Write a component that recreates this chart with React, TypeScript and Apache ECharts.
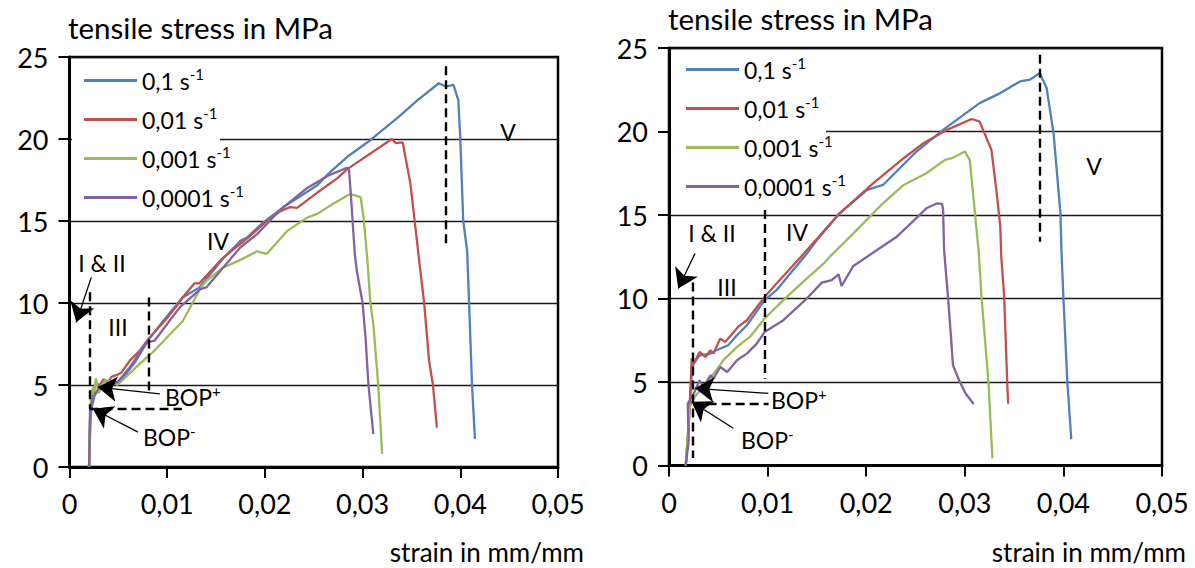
import React, { useEffect, useRef } from "react";
import * as echarts from "echarts";

const FONT = 'Lato, "Open Sans", sans-serif';

const rateNames = ["0,1 s-1", "0,01 s-1", "0,001 s-1", "0,0001 s-1"];
const rateColors = ["#4F81BD", "#C0504D", "#9BBB59", "#8064A2"];
const xTickLabels = ["0", "0,01", "0,02", "0,03", "0,04", "0,05"];
const yTickLabels = ["0", "5", "10", "15", "20", "25"];

// ---- left chart: strain (mm/mm), stress (MPa)
const leftRate1 = [
  [0.002, 0], [0.0021, 2.8], [0.0023, 3.7], [0.0026, 4.4], [0.0031, 4.8], [0.0037, 5.0], [0.0043, 5.15],
  [0.0049, 5.1], [0.0057, 5.6], [0.0067, 6.4], [0.0082, 7.85], [0.0098, 9.05], [0.0116, 10.35], [0.0133, 10.95],
  [0.0157, 12.7], [0.0175, 13.8], [0.0182, 14.0], [0.0198, 14.9], [0.0219, 15.85], [0.0254, 17.2], [0.0267, 18.0],
  [0.0284, 18.9], [0.0305, 19.8], [0.0336, 21.3], [0.0356, 22.35], [0.0378, 23.4], [0.0385, 23.2], [0.0393, 23.3],
  [0.0398, 22.35], [0.04, 20.0], [0.0403, 15.0], [0.0407, 13.2], [0.0409, 10.0], [0.0412, 5.0], [0.0415, 1.7],
];
const leftRate2 = [
  [0.002, 0], [0.0022, 3.75], [0.0024, 4.55], [0.0027, 5.1], [0.0031, 5.0], [0.0035, 5.35], [0.0039, 5.15],
  [0.0043, 5.5], [0.0048, 5.6], [0.0053, 5.75], [0.0062, 6.5], [0.0072, 7.1], [0.0082, 7.9], [0.0098, 8.95],
  [0.011, 9.85], [0.0116, 10.35], [0.0128, 11.2], [0.0133, 11.2], [0.0157, 12.75], [0.0185, 14.1], [0.0202, 15.0],
  [0.0216, 15.6], [0.0226, 15.85], [0.0233, 15.8], [0.0254, 16.75], [0.0274, 17.6], [0.0284, 18.15], [0.033, 20.0],
  [0.0334, 19.75], [0.0341, 19.8], [0.0349, 17.25], [0.0358, 12.55], [0.0363, 10.0], [0.0368, 6.5], [0.0372, 5.0],
  [0.0376, 2.4],
];
const leftRate3 = [
  [0.002, 0], [0.0021, 2.85], [0.0022, 4.35], [0.0024, 4.85], [0.0025, 4.25], [0.0027, 5.4], [0.003, 4.5],
  [0.0033, 5.0], [0.0037, 5.3], [0.0043, 5.2], [0.0049, 5.0], [0.0057, 5.45], [0.0072, 6.3], [0.0087, 7.1],
  [0.0116, 8.9], [0.0134, 10.9], [0.014, 11.35], [0.0157, 12.15], [0.0174, 12.6], [0.0192, 13.15], [0.0202, 13.0],
  [0.0223, 14.4], [0.0243, 15.2], [0.0254, 15.45], [0.027, 16.05], [0.0287, 16.65], [0.0298, 16.45], [0.0301, 15.2],
  [0.0305, 12.55], [0.0308, 10.0], [0.0311, 8.7], [0.0316, 5.0], [0.032, 0.8],
];
const leftRate4 = [
  [0.002, 0], [0.0021, 3.45], [0.0024, 4.25], [0.0031, 4.9], [0.0043, 4.95], [0.0051, 5.3], [0.0062, 6.1],
  [0.0079, 7.6], [0.0087, 7.7], [0.0113, 9.75], [0.0134, 10.85], [0.014, 10.95], [0.0175, 13.4], [0.0192, 14.2],
  [0.0216, 15.7], [0.0243, 17.0], [0.0264, 17.75], [0.0284, 18.25], [0.0286, 18.2], [0.0288, 16.6], [0.0292, 13.0],
  [0.0294, 12.0], [0.03, 10.0], [0.0303, 7.9], [0.0306, 5.0], [0.0311, 2.0],
];

// ---- right chart
const rightRate1 = [
  [0.0017, 0], [0.0021, 3.5], [0.0023, 5.5], [0.0025, 6.1], [0.0031, 6.6], [0.0042, 6.7], [0.0048, 6.9],
  [0.006, 7.2], [0.0069, 7.8], [0.0079, 8.4], [0.0097, 9.9], [0.0109, 10.5], [0.0123, 11.5], [0.014, 12.7],
  [0.015, 13.5], [0.0173, 15.1], [0.0201, 16.5], [0.0217, 16.8], [0.0251, 18.8], [0.0278, 20.1], [0.0315, 21.7],
  [0.0336, 22.3], [0.0356, 23.0], [0.0366, 23.1], [0.0376, 23.5], [0.0383, 22.6], [0.039, 19.9], [0.0397, 15.1],
  [0.0398, 12.9], [0.04, 10.05], [0.0404, 5.0], [0.0408, 1.57],
];
const rightRate2 = [
  [0.0017, 0], [0.002, 2.3], [0.0022, 4.9], [0.0023, 6.4], [0.0025, 6.1], [0.0031, 6.8], [0.0037, 6.5],
  [0.0042, 6.9], [0.0045, 6.7], [0.0052, 7.6], [0.0057, 7.4], [0.007, 8.3], [0.0079, 8.7], [0.0097, 10.1],
  [0.0123, 11.8], [0.014, 12.9], [0.0173, 15.1], [0.0207, 16.9], [0.0238, 18.4], [0.0258, 19.3], [0.0282, 20.1],
  [0.0307, 20.75], [0.0315, 20.6], [0.0327, 18.9], [0.0332, 16.5], [0.0336, 14.3], [0.0337, 12.5], [0.034, 10.05],
  [0.0343, 5.0], [0.0344, 3.7],
];
const rightRate3 = [
  [0.0017, 0], [0.002, 2.7], [0.0021, 3.5], [0.0026, 4.1], [0.0037, 4.9], [0.0048, 5.7], [0.0055, 6.3],
  [0.0069, 7.1], [0.0082, 7.7], [0.0097, 8.8], [0.0116, 9.9], [0.0136, 11.0], [0.0157, 12.1], [0.0163, 12.5],
  [0.0187, 13.9], [0.0217, 15.7], [0.0238, 16.8], [0.0261, 17.5], [0.028, 18.3], [0.0287, 18.4], [0.03, 18.8],
  [0.0305, 18.3], [0.0309, 15.9], [0.0314, 12.9], [0.0317, 10.05], [0.0324, 5.0], [0.0328, 0.43],
];
const rightRate4 = [
  [0.0017, 0], [0.002, 1.5], [0.0019, 3.7], [0.0025, 4.3], [0.0031, 5.1], [0.0035, 4.7], [0.0042, 5.4],
  [0.0045, 5.2], [0.0052, 5.9], [0.0059, 5.6], [0.0069, 6.3], [0.0079, 6.7], [0.0089, 7.3], [0.0097, 8.0],
  [0.0116, 8.7], [0.0138, 9.9], [0.0155, 10.95], [0.0165, 11.1], [0.0172, 11.45], [0.0175, 10.75], [0.0187, 11.95],
  [0.0211, 12.9], [0.0231, 13.7], [0.0248, 14.65], [0.0261, 15.4], [0.0272, 15.7], [0.0277, 15.66], [0.0278, 15.3],
  [0.0279, 12.9], [0.0283, 10.05], [0.0286, 7.7], [0.0288, 6.0], [0.0295, 5.0], [0.0301, 4.3], [0.0309, 3.68],
];

const leftCurves = [leftRate1, leftRate2, leftRate3, leftRate4];
const rightCurves = [rightRate1, rightRate2, rightRate3, rightRate4];

// annotation segments [x1, y1, x2, y2] in data units
const leftDashed = [
  [0.00205, 10.65, 0.00205, 3.55],
  [0.00205, 3.55, 0.0115, 3.55],
  [0.0081, 10.34, 0.0081, 4.46],
  [0.0385, 24.43, 0.0385, 13.6],
];
const leftArrows = [
  [0.00223, 11.56, 0.00069, 8.82],
  [0.00924, 4.46, 0.0029, 4.87],
  [0.00701, 2.13, 0.00239, 3.55],
];
const rightDashed = [
  [0.0024, 10.96, 0.0024, 0.45],
  [0.0025, 3.72, 0.0101, 3.72],
  [0.0097, 15.3, 0.0097, 5.2],
  [0.0376, 24.6, 0.0376, 13.4],
];
const rightArrows = [
  [0.00264, 12.7, 0.00094, 10.6],
  [0.01007, 4.32, 0.00264, 4.62],
  [0.00652, 2.23, 0.0023, 3.82],
];

const supRich = (size: number, sup: number, raise: number) => ({
  a: { fontSize: size, fontFamily: FONT, color: "#000" },
  s: { fontSize: sup, fontFamily: FONT, color: "#000", padding: [0, 0, raise, 0] },
});

export default function App() {
  const ref = useRef<HTMLDivElement>(null);
  useEffect(() => {
    if (!ref.current) return;
    const chart = echarts.init(ref.current, undefined, { renderer: "svg" });

    const grids = [
      { left: 69.5, top: 57, width: 488.5, height: 410 },
      { left: 669, top: 48, width: 493, height: 417.5 },
    ];

    const xAxes = grids.map((_, gi) => ({
      type: "value",
      gridIndex: gi,
      min: 0,
      max: 0.05,
      interval: 0.01,
      axisLine: { show: true, onZero: false, lineStyle: { color: "#000", width: 3 } },
      axisTick: { show: true, inside: false, length: 11, lineStyle: { color: "#000", width: 2 } },
      axisLabel: {
        fontSize: 27,
        fontFamily: FONT,
        color: "#000",
        margin: 23,
        formatter: (v: number) => xTickLabels[Math.round(v / 0.01)] ?? "",
      },
      splitLine: { show: false },
    }));
    const yAxes = grids.map((_, gi) => ({
      type: "value",
      gridIndex: gi,
      min: 0,
      max: 25,
      interval: 5,
      axisLine: { show: true, onZero: false, lineStyle: { color: "#000", width: 3 } },
      axisTick: { show: true, inside: false, length: 11, lineStyle: { color: "#000", width: 2 } },
      axisLabel: {
        fontSize: 27,
        fontFamily: FONT,
        color: "#000",
        margin: 21,
        formatter: (v: number) => yTickLabels[Math.round(v / 5)] ?? "",
      },
      splitLine: { show: true, lineStyle: { color: "#1a1a1a", width: 1.4 } },
    }));

    const series: any[] = [];
    [leftCurves, rightCurves].forEach((curves, gi) => {
      curves.forEach((d, i) => {
        series.push({
          type: "line",
          name: rateNames[i],
          xAxisIndex: gi,
          yAxisIndex: gi,
          data: d,
          symbol: "none",
          showSymbol: false,
          z: 3,
          lineStyle: { color: rateColors[i], width: 2.3 },
          itemStyle: { color: rateColors[i] },
        });
      });
    });
    const seg = (s: number[][]) => s.map(([x1, y1, x2, y2]) => [{ coord: [x1, y1] }, { coord: [x2, y2] }]);
    [
      [leftDashed, leftArrows],
      [rightDashed, rightArrows],
    ].forEach(([dashed, arrows], gi) => {
      series.push({
        type: "line",
        name: "dashed" + gi,
        xAxisIndex: gi,
        yAxisIndex: gi,
        data: [],
        silent: true,
        z: 4,
        markLine: {
          silent: true,
          symbol: ["none", "none"],
          label: { show: false },
          emphasis: { disabled: true },
          lineStyle: { color: "#000", width: 2.4, type: [9, 5] },
          data: seg(dashed),
        },
      });
      series.push({
        type: "line",
        name: "arrows" + gi,
        xAxisIndex: gi,
        yAxisIndex: gi,
        data: [],
        silent: true,
        z: 4,
        markLine: {
          silent: true,
          symbol: ["none", "arrow"],
          symbolSize: 19,
          label: { show: false },
          emphasis: { disabled: true },
          lineStyle: { color: "#000", width: 1.3, type: "solid" },
          itemStyle: { color: "#000" },
          data: seg(arrows),
        },
      });
    });

    const legendFmt = (name: string) => `{a|${name.replace(" s-1", " s")}}{s|-1}`;
    const legends = [
      { left: 84, top: 66 },
      { left: 686, top: 55 },
    ].map((p) => ({
      ...p,
      orient: "vertical",
      icon: "rect",
      itemWidth: 53,
      itemHeight: 3,
      itemGap: 11,
      padding: 0,
      data: rateNames,
      selectedMode: false,
      formatter: legendFmt,
      textStyle: { fontSize: 23, fontFamily: FONT, color: "#000", lineHeight: 27, rich: supRich(23, 15, 14) },
    }));

    const txt = (text: string, x: number, y: number, size: number, align = "center") => ({
      type: "text",
      x,
      y,
      z: 10,
      style: { text, fontSize: size, fontFamily: FONT, fill: "#000", align, verticalAlign: "middle" },
    });
    const supTxt = (base: string, sup: string, x: number, y: number) => ({
      type: "text",
      x,
      y,
      z: 10,
      style: {
        text: `{a|${base}}{s|${sup}}`,
        fill: "#000",
        align: "left",
        verticalAlign: "middle",
        rich: supRich(23, 15, 13),
      },
    });

    const graphic = [
      { type: "rect", z: 1, shape: { x: 72, y: 60, width: 148, height: 150 }, style: { fill: "#fff" } },
      { type: "rect", z: 1, shape: { x: 671, y: 50, width: 155, height: 150 }, style: { fill: "#fff" } },
      txt("tensile stress in MPa", 68, 27, 29.5, "left"),
      txt("tensile stress in MPa", 668, 18, 29.5, "left"),
      txt("strain in mm/mm", 584, 552, 26, "right"),
      txt("strain in mm/mm", 1186, 552, 26, "right"),
      txt("I & II", 102, 263, 23),
      txt("III", 118, 327, 23),
      txt("IV", 218, 241, 23),
      txt("V", 508, 132, 23),
      supTxt("BOP", "+", 165, 397),
      supTxt("BOP", "-", 143, 437),
      txt("I & II", 712, 233, 23),
      txt("III", 727, 287, 23),
      txt("IV", 797, 232, 23),
      txt("V", 1094, 166, 23),
      supTxt("BOP", "+", 771, 400),
      supTxt("BOP", "-", 741, 440),
    ];

    chart.setOption({
      animation: false,
      backgroundColor: "#fff",
      grid: grids.map((g) => ({ ...g, show: true, borderColor: "#000", borderWidth: 2.5, backgroundColor: "transparent" })),
      xAxis: xAxes,
      yAxis: yAxes,
      legend: legends,
      series,
      graphic,
    });
    return () => chart.dispose();
  }, []);
  return (
    <div
      ref={ref}
      style={{ position: "absolute", left: 0, top: 0, width: 1195, height: 568, background: "#fff" }}
    />
  );
}
